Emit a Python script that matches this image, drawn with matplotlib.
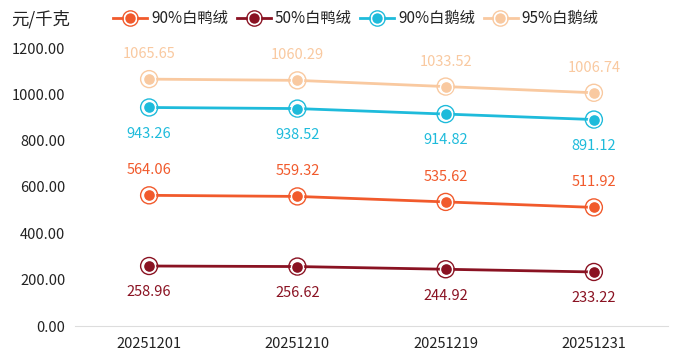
import matplotlib
matplotlib.use("Agg")
import matplotlib.pyplot as plt
from matplotlib.lines import Line2D

plt.rcParams['font.family'] = ['Noto Sans CJK SC', 'DejaVu Sans']

# 数据
dates = ["20251201", "20251210", "20251219", "20251231"]
duck90 = [564.06, 559.32, 535.62, 511.92]
duck50 = [258.96, 256.62, 244.92, 233.22]
goose90 = [943.26, 938.52, 914.82, 891.12]
goose95 = [1065.65, 1060.29, 1033.52, 1006.74]

series = [
    ("90%白鸭绒", duck90, "#F15A2C", "above"),
    ("50%白鸭绒", duck50, "#8A1222", "below"),
    ("90%白鹅绒", goose90, "#1EBBDB", "below"),
    ("95%白鹅绒", goose95, "#F9C9A0", "above"),
]

W, H = 678, 362
fig = plt.figure(figsize=(W / 100, H / 100), dpi=100)
ax = fig.add_axes([75 / W, 36 / H, 593 / W, 278 / H])

x = list(range(len(dates)))
for name, vals, color, pos in series:
    ax.plot(x, vals, color=color, lw=2, zorder=2)
    # 外圈 + 实心点
    ax.scatter(x, vals, s=150, facecolors="none", edgecolors=color, linewidths=1.0, zorder=3)
    ax.scatter(x, vals, s=75, color=color, edgecolors="white", linewidths=1.0, zorder=4)
    for xi, v in zip(x, vals):
        off = 18 if pos == "above" else -19
        ax.annotate(f"{v:.2f}", (xi, v), xytext=(0, off), textcoords="offset points",
                    ha="center", va="center", color=color, fontsize=10.5)

ax.set_xlim(-0.5, len(dates) - 0.5)
ax.set_ylim(0, 1200)
ax.set_yticks([0, 200, 400, 600, 800, 1000, 1200])
ax.set_yticklabels([f"{t:.2f}" for t in [0, 200, 400, 600, 800, 1000, 1200]])
ax.set_xticks(x)
ax.set_xticklabels(dates)
ax.tick_params(axis="both", length=0, labelsize=10.5, colors="#222222")
ax.tick_params(axis="y", pad=7)
ax.tick_params(axis="x", pad=8)
for s in ["top", "right", "left"]:
    ax.spines[s].set_visible(False)
ax.spines["bottom"].set_color("#DDDDDD")

fig.text(11 / W, 1 - 19 / H, "元/千克", fontsize=12.5, va="center", ha="left", color="#222222")

# 图例（手动排布）
ly = 1 - 18 / H
for i, (name, vals, color, pos) in enumerate(series):
    x0 = 113 + i * 123.5
    xc = (x0 + 17) / W
    fig.add_artist(Line2D([x0 / W, (x0 + 34) / W], [ly, ly], color=color, lw=2,
                          transform=fig.transFigure))
    fig.add_artist(Line2D([xc], [ly], color=color, marker="o", markersize=11,
                          markerfacecolor="none", markeredgewidth=1.0, linestyle="none",
                          transform=fig.transFigure))
    fig.add_artist(Line2D([xc], [ly], color=color, marker="o", markersize=8.5,
                          markerfacecolor=color, markeredgecolor="white", linestyle="none",
                          transform=fig.transFigure))
    fig.text((x0 + 38) / W, ly, name, fontsize=11, va="center", ha="left", color="#222222")

fig.savefig("out.png", dpi=100)
